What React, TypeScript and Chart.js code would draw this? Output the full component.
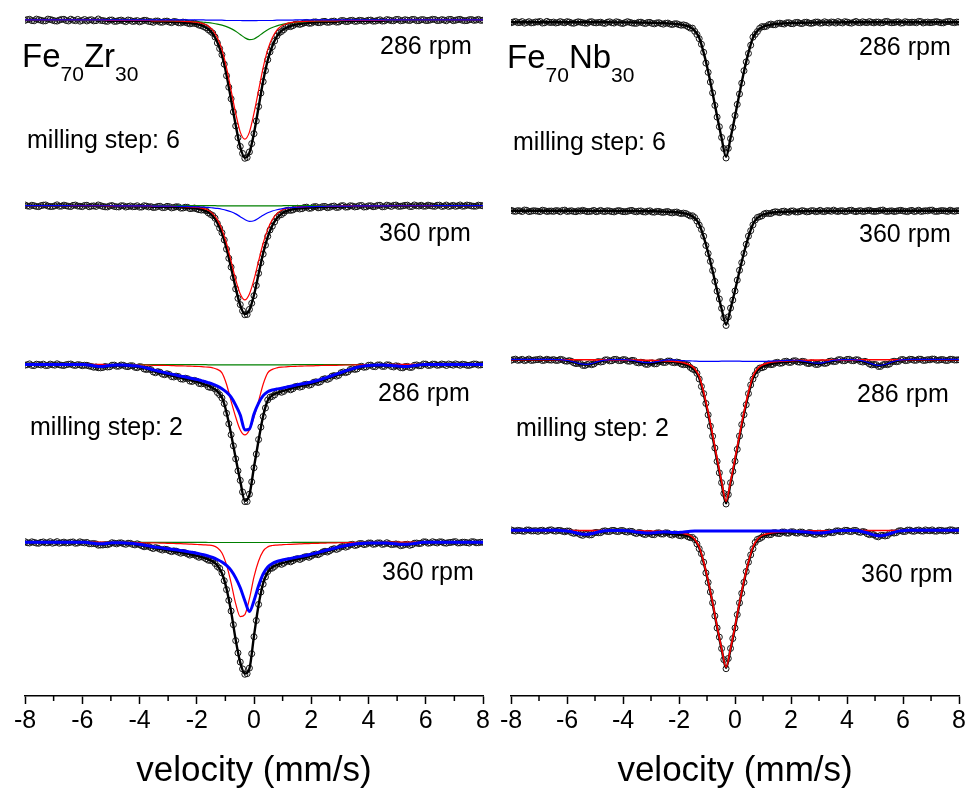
import React, { useEffect, useRef } from "react";
import { Chart, registerables } from "chart.js";
Chart.register(...registerables);

// ---------------- shared axis data ----------------
// measured channels (two interleaved velocity sets of the folded spectrum)
const VELOCITY = [
  -8, -7.84, -7.68, -7.52, -7.36, -7.2, -7.04, -6.88, -6.72, -6.56,
  -6.4, -6.24, -6.08, -5.92, -5.76, -5.6, -5.44, -5.28, -5.12, -4.96,
  -4.8, -4.64, -4.48, -4.32, -4.16, -4, -3.84, -3.68, -3.52, -3.36,
  -3.2, -3.04, -2.88, -2.72, -2.56, -2.4, -2.24, -2.08, -1.92, -1.76,
  -1.6, -1.44, -1.28, -1.12, -0.96, -0.8, -0.64, -0.48, -0.32, -0.16,
  0, 0.16, 0.32, 0.48, 0.64, 0.8, 0.96, 1.12, 1.28, 1.44,
  1.6, 1.76, 1.92, 2.08, 2.24, 2.4, 2.56, 2.72, 2.88, 3.04,
  3.2, 3.36, 3.52, 3.68, 3.84, 4, 4.16, 4.32, 4.48, 4.64,
  4.8, 4.96, 5.12, 5.28, 5.44, 5.6, 5.76, 5.92, 6.08, 6.24,
  6.4, 6.56, 6.72, 6.88, 7.04, 7.2, 7.36, 7.52, 7.68, 7.84, 8,
];
const VELOCITY_MID = [
  -7.92, -7.76, -7.6, -7.44, -7.28, -7.12, -6.96, -6.8, -6.64, -6.48,
  -6.32, -6.16, -6, -5.84, -5.68, -5.52, -5.36, -5.2, -5.04, -4.88,
  -4.72, -4.56, -4.4, -4.24, -4.08, -3.92, -3.76, -3.6, -3.44, -3.28,
  -3.12, -2.96, -2.8, -2.64, -2.48, -2.32, -2.16, -2, -1.84, -1.68,
  -1.52, -1.36, -1.2, -1.04, -0.88, -0.72, -0.56, -0.4, -0.24, -0.08,
  0.08, 0.24, 0.4, 0.56, 0.72, 0.88, 1.04, 1.2, 1.36, 1.52,
  1.68, 1.84, 2, 2.16, 2.32, 2.48, 2.64, 2.8, 2.96, 3.12,
  3.28, 3.44, 3.6, 3.76, 3.92, 4.08, 4.24, 4.4, 4.56, 4.72,
  4.88, 5.04, 5.2, 5.36, 5.52, 5.68, 5.84, 6, 6.16, 6.32,
  6.48, 6.64, 6.8, 6.96, 7.12, 7.28, 7.44, 7.6, 7.76, 7.92,
];
const X_MAJOR_TICKS = [-8, -6, -4, -2, 0, 2, 4, 6, 8];
const X_MINOR_TICKS = [-7, -5, -3, -1, 1, 3, 5, 7];
const X_TITLE = "velocity (mm/s)";

// ---------------- Fe70Zr30 : milling step 6, 286 rpm (absorption, a.u.) ----------------
const ZR6_286_DATA = [
  0.5, -0.6, 0.9, -0.2, 1.1, -0.8, 0.3, 1.2, -0.5, 0.6,
  -0.7, 0.8, 1.3, -0.4, 0.2, 1, -0.9, 0.7, 1.5, 0.1,
  1.4, 0.2, 1.8, 0.5, 1.2, 2, 0.4, 1.6, 2.5, 1.1,
  2.4, 1.2, 2.8, 1.9, 3.1, 2.5, 4, 3.4, 5.3, 6.8,
  9.8, 13.4, 23.2, 35, 56.2, 79.5, 106.8, 127.5, 139.4, 133,
  114.6, 87.3, 62.2, 40.1, 27, 16.1, 11.7, 7.5, 6.8, 4.3,
  4.6, 3, 3.4, 2.1, 2.8, 1.6, 2.5, 1.4, 2.3, 0.8,
  1.7, 0.6, 1.5, 0.4, 1.4, 0.3, 1.3, 0.5, 1.2, -0.3,
  0.8, -0.4, 0.9, -0.2, 0.7, -0.5, 0.8, -0.3, 0.6, -0.6,
  0.7, -0.3, 0.9, -0.5, 0.4, -0.6, 0.8, -0.2, 0.5, -0.5, 0.3,
];
const ZR6_286_DATA_MID = [
  -0.3, 0.7, -0.8, 0.4, 0.9, -0.4, 1, 0.2, -0.6, 1.1,
  0.3, -0.5, 0.6, 1.1, -0.2, 0.8, 0.5, 1.2, 0.2, 1.5,
  0.6, 1.1, 0.1, 1.6, 0.7, 1.3, 0.5, 1.8, 1.2, 2.3,
  1.4, 2.2, 1.6, 2.9, 2.2, 3.3, 3.5, 4.1, 5.8, 7.9,
  11.6, 17.3, 28.9, 44.6, 67.8, 92.7, 118.6, 134.5, 138.6, 124.6,
  101.9, 73.7, 51.1, 32.2, 21.2, 13, 9.8, 6.4, 5.8, 4,
  3.9, 2.6, 3.3, 2, 2.8, 1.5, 2.3, 1.2, 2.1, 0.6,
  1.6, 0.4, 1.3, 0.6, 1.1, 0.2, 1.2, -0.1, 1, 0.1,
  0.9, -0.5, 0.6, 0.3, -0.4, 0.8, -0.2, 0.7, 0.1, -0.4,
  0.6, 0.2, -0.5, 0.8, -0.3, 0.4, 0.7, -0.4, 0.2, 0.5,
];
const ZR6_286_FIT = [
  0.1, 0.1, 0.1, 0.1, 0.1, 0.1, 0.2, 0.2, 0.2, 0.2,
  0.2, 0.2, 0.2, 0.2, 0.2, 0.2, 0.3, 0.3, 0.8, 0.8,
  0.8, 0.9, 0.9, 0.9, 0.9, 1, 1, 1, 1.6, 1.7,
  1.7, 1.8, 1.9, 2.2, 2.4, 2.9, 3.3, 3.9, 4.8, 6.4,
  9.2, 14, 22.5, 35.6, 55.4, 80.4, 106, 128.3, 138.8, 133.7,
  114, 88, 61.6, 40.6, 26.3, 16.6, 11.1, 8.1, 6.2, 4.8,
  4, 3.5, 2.9, 2.6, 2.2, 2.1, 2, 1.9, 1.8, 1.2,
  1.1, 1.1, 1, 1, 1, 0.9, 0.9, 0.9, 0.8, 0.3,
  0.3, 0.3, 0.3, 0.3, 0.2, 0.2, 0.2, 0.2, 0.2, 0.2,
  0.2, 0.2, 0.2, 0.1, 0.1, 0.1, 0.1, 0.1, 0.1, 0.1, 0.1,
];
const ZR6_286_RED = [
  0, 0, 0, 0, 0, 0, 0, 0, 0, 0,
  0, 0, 0, 0, 0, 0, 0, 0, 0.5, 0.5,
  0.5, 0.5, 0.5, 0.5, 0.5, 0.5, 0.5, 0.5, 1, 1,
  1, 1, 1, 1.2, 1.3, 1.6, 1.8, 2.2, 2.8, 4,
  6.1, 10.3, 18, 30, 48, 71, 94, 113, 120, 113,
  94, 71, 48, 30, 18, 10.3, 6.1, 4, 2.8, 2.2,
  1.8, 1.6, 1.3, 1.2, 1, 1, 1, 1, 1, 0.5,
  0.5, 0.5, 0.5, 0.5, 0.5, 0.5, 0.5, 0.5, 0.5, 0,
  0, 0, 0, 0, 0, 0, 0, 0, 0, 0,
  0, 0, 0, 0, 0, 0, 0, 0, 0, 0, 0,
];
const ZR6_286_GREEN = [
  0.1, 0.1, 0.1, 0.1, 0.1, 0.1, 0.2, 0.2, 0.2, 0.2,
  0.2, 0.2, 0.2, 0.2, 0.2, 0.2, 0.3, 0.3, 0.3, 0.3,
  0.3, 0.4, 0.4, 0.4, 0.4, 0.5, 0.5, 0.5, 0.6, 0.7,
  0.7, 0.8, 0.9, 1, 1.1, 1.3, 1.5, 1.7, 2, 2.4,
  2.8, 3.4, 4.2, 5.3, 6.8, 8.8, 11.4, 14.7, 18, 19.9,
  19.2, 16.4, 13, 10, 7.7, 6, 4.7, 3.8, 3.1, 2.6,
  2.2, 1.9, 1.6, 1.4, 1.2, 1.1, 1, 0.9, 0.8, 0.7,
  0.6, 0.6, 0.5, 0.5, 0.5, 0.4, 0.4, 0.4, 0.3, 0.3,
  0.3, 0.3, 0.3, 0.3, 0.2, 0.2, 0.2, 0.2, 0.2, 0.2,
  0.2, 0.2, 0.2, 0.1, 0.1, 0.1, 0.1, 0.1, 0.1, 0.1, 0.1,
];
const ZR6_286_BLUE = [
  0, 0, 0, 0, 0, 0, 0, 0, 0, 0,
  0, 0, 0, 0, 0, 0, 0, 0, 0, 0,
  0, 0, 0, 0, 0, 0, 0, 0, 0, 0,
  0, 0, 0, 0, 0, 0, 0, 0, 0, 0,
  0.3, 0.3, 0.3, 0.3, 0.6, 0.6, 0.6, 0.6, 0.8, 0.8,
  0.8, 0.6, 0.6, 0.6, 0.6, 0.3, 0.3, 0.3, 0.3, 0,
  0, 0, 0, 0, 0, 0, 0, 0, 0, 0,
  0, 0, 0, 0, 0, 0, 0, 0, 0, 0,
  0, 0, 0, 0, 0, 0, 0, 0, 0, 0,
  0, 0, 0, 0, 0, 0, 0, 0, 0, 0, 0,
];

// ---------------- Fe70Zr30 : milling step 6, 360 rpm ----------------
const ZR6_360_DATA = [
  -0.6, 0.8, 0.2, 1.1, -0.4, 0.5, 1, -0.7, 0.6, 0.2,
  1, -0.5, 0.7, -0.1, 1.2, 0.3, -0.6, 0.9, 1.4, 0,
  1.3, 0.2, 1.5, 0.4, 1.1, 1.6, 0.2, 1.4, 2, 0.9,
  2.1, 0.8, 2.4, 1.2, 2.6, 1.7, 3.1, 2.5, 4.2, 4.3,
  7.3, 10.1, 18.1, 27.4, 43.9, 62, 84, 99.8, 110, 104.6,
  90.8, 68.3, 48.9, 31, 20.8, 12.1, 9.1, 5.2, 4.9, 3,
  3.5, 1.9, 2.8, 1.3, 2.3, 1, 2.2, 0.8, 2, 0.3,
  1.6, 0.2, 1.4, 0.1, 1.5, 0.3, 1.2, -0.2, 1.3, -0.4,
  0.9, -0.5, 0.8, -0.2, 1, -0.6, 0.5, 0.7, -0.4, 0.6,
  -0.3, 0.9, -0.5, 0.4, 0.8, -0.6, 0.5, -0.2, 0.7, -0.4, 0.3,
];
const ZR6_360_DATA_MID = [
  0.4, -0.3, 0.9, 0.1, -0.6, 1, 0.3, 0.7, -0.4, 0.8,
  -0.2, 0.5, 1.1, -0.3, 0.6, 0.9, 0.1, 1.3, 0.4, 0.9,
  1.4, 0.3, 1, 1.2, 0.2, 1.5, 0.6, 1.1, 1.8, 0.7,
  2, 1.1, 1.9, 1.3, 2.5, 1.8, 2.9, 3.4, 4.6, 5.2,
  8.9, 12.8, 22.8, 34.6, 53.1, 72.6, 93.5, 106, 109.7, 98.4,
  80.5, 57.6, 39.9, 24.6, 16.4, 9.7, 7.3, 4.6, 4.4, 2.7,
  3.2, 1.6, 2.6, 1, 2.1, 0.9, 1.8, 0.5, 1.7, 0.1,
  1.4, 0.5, 1.1, -0.1, 1.3, 0.2, 0.9, -0.3, 1.1, 0.2,
  -0.2, 0.8, 0.3, -0.4, 0.9, 0.2, -0.3, 0.6, 0.1, 0.8,
  -0.4, 0.5, 0.9, -0.2, 0.3, 0.7, -0.5, 0.4, 0.6, -0.1,
];
const ZR6_360_FIT = [
  0.1, 0.1, 0.1, 0.1, 0.1, 0.1, 0.1, 0.1, 0.1, 0.1,
  0.2, 0.2, 0.2, 0.2, 0.2, 0.2, 0.2, 0.2, 0.6, 0.6,
  0.7, 0.7, 0.7, 0.7, 0.7, 0.8, 0.8, 0.8, 1.3, 1.3,
  1.35, 1.4, 1.5, 1.65, 1.8, 2.1, 2.4, 2.9, 3.6, 4.7,
  6.7, 10.6, 17.4, 28, 43.1, 62.6, 83.2, 100.5, 109.4, 105.2,
  90.1, 69, 48.1, 31.6, 20, 12.7, 8.4, 5.7, 4.3, 3.5,
  2.9, 2.5, 2.1, 1.95, 1.7, 1.6, 1.5, 1.4, 1.4, 0.9,
  0.9, 0.9, 0.8, 0.8, 0.8, 0.8, 0.7, 0.7, 0.7, 0.3,
  0.2, 0.2, 0.2, 0.2, 0.2, 0.2, 0.2, 0.2, 0.2, 0.2,
  0.1, 0.1, 0.1, 0.1, 0.1, 0.1, 0.1, 0.1, 0.1, 0.1, 0.1,
];
const ZR6_360_RED = [
  0, 0, 0, 0, 0, 0, 0, 0, 0, 0,
  0, 0, 0, 0, 0, 0, 0, 0, 0.4, 0.4,
  0.4, 0.4, 0.4, 0.4, 0.4, 0.4, 0.4, 0.4, 0.8, 0.8,
  0.8, 0.8, 0.8, 0.95, 1, 1.2, 1.4, 1.7, 2.2, 3.1,
  4.8, 8.2, 14.2, 24, 38, 56, 74.5, 89, 95, 89,
  74.5, 56, 38, 24, 14.2, 8.2, 4.8, 3.1, 2.2, 1.7,
  1.4, 1.2, 1, 0.95, 0.8, 0.8, 0.8, 0.8, 0.8, 0.4,
  0.4, 0.4, 0.4, 0.4, 0.4, 0.4, 0.4, 0.4, 0.4, 0,
  0, 0, 0, 0, 0, 0, 0, 0, 0, 0,
  0, 0, 0, 0, 0, 0, 0, 0, 0, 0, 0,
];
const ZR6_360_GREEN = [
  0, 0, 0, 0, 0, 0, 0, 0, 0, 0,
  0, 0, 0, 0, 0, 0, 0, 0, 0, 0,
  0, 0, 0, 0, 0, 0, 0, 0, 0, 0,
  0, 0, 0, 0, 0, 0, 0, 0, 0, 0,
  0, 0, 0.3, 0.3, 0.3, 0.3, 0.3, 0.3, 0.3, 0.3,
  0.3, 0.3, 0.3, 0.3, 0.3, 0.3, 0.3, 0, 0, 0,
  0, 0, 0, 0, 0, 0, 0, 0, 0, 0,
  0, 0, 0, 0, 0, 0, 0, 0, 0, 0,
  0, 0, 0, 0, 0, 0, 0, 0, 0, 0,
  0, 0, 0, 0, 0, 0, 0, 0, 0, 0, 0,
];
const ZR6_360_BLUE = [
  0.1, 0.1, 0.1, 0.1, 0.1, 0.1, 0.1, 0.1, 0.1, 0.1,
  0.2, 0.2, 0.2, 0.2, 0.2, 0.2, 0.2, 0.2, 0.2, 0.2,
  0.3, 0.3, 0.3, 0.3, 0.3, 0.4, 0.4, 0.4, 0.5, 0.5,
  0.55, 0.6, 0.7, 0.7, 0.8, 0.9, 1, 1.2, 1.4, 1.6,
  1.9, 2.4, 2.9, 3.7, 4.8, 6.3, 8.4, 11.2, 14.1, 15.9,
  15.3, 12.7, 9.8, 7.3, 5.5, 4.2, 3.3, 2.6, 2.1, 1.8,
  1.5, 1.3, 1.1, 1, 0.9, 0.8, 0.7, 0.6, 0.6, 0.5,
  0.5, 0.5, 0.4, 0.4, 0.4, 0.4, 0.3, 0.3, 0.3, 0.3,
  0.2, 0.2, 0.2, 0.2, 0.2, 0.2, 0.2, 0.2, 0.2, 0.2,
  0.1, 0.1, 0.1, 0.1, 0.1, 0.1, 0.1, 0.1, 0.1, 0.1, 0.1,
];

// ---------------- Fe70Zr30 : milling step 2, 286 rpm ----------------
const ZR2_286_DATA = [
  0.8, -0.5, 1.2, 0.1, -0.3, 1, 0.4, -0.6, 0.9, 0.3,
  -0.4, 1.1, 0.5, 0.8, 1.6, 2.9, 3.4, 3.1, 2.6, 0.8,
  1.9, 0.6, 2, 1.3, 2.9, 2.2, 4.6, 4.7, 7.6, 7.3,
  9.8, 9.4, 12.3, 11.8, 14.6, 13.9, 16.8, 16.1, 19.2, 19.1,
  22.6, 23.1, 28.3, 33.9, 49.2, 70.8, 95.1, 116.8, 138.2, 130.7,
  104.1, 75.7, 52.5, 35.8, 32.3, 28, 28.1, 25.2, 25.6, 22.4,
  22.9, 20.3, 21, 18.1, 18.3, 15.1, 15.2, 11.9, 11.8, 8.4,
  8.3, 5.2, 5.1, 2.4, 2.9, 0.9, 2.1, 0.6, 2, 0.4,
  2.1, 1.4, 3.3, 2.2, 3.1, 0.9, 1.4, -0.4, 1, -0.3,
  0.9, -0.4, 1.1, 0.2, -0.5, 0.9, 0.1, 1, -0.4, 0.7, 0.2,
];
const ZR2_286_DATA_MID = [
  0.3, 1, -0.2, 0.6, 1.2, -0.3, 0.8, 0.4, 1.1, -0.1,
  0.7, 0.2, 1.3, 0.9, 2.1, 2.6, 3.5, 2.1, 2.4, 0.7,
  1.8, 0.9, 2.3, 1.4, 3.3, 2.6, 5.2, 5.3, 8.4, 7.9,
  10.4, 10.1, 12.7, 12.2, 14.9, 14.4, 17.2, 16.9, 19.6, 20.1,
  23.3, 24.9, 30.6, 39.5, 59.8, 82, 107.2, 128.5, 138.1, 118.3,
  90.4, 63.2, 43.9, 33, 30.7, 27.4, 27.2, 24.6, 24.5, 22,
  22.3, 20, 20.3, 17.5, 17.5, 14.4, 14.2, 11.2, 11, 7.6,
  7.5, 4.4, 4.6, 1.9, 2.6, 0.7, 2.3, 0.5, 2, 0.6,
  2.6, 1.8, 3.5, 2, 2.9, 0.5, 1.3, -0.3, 0.9, -0.2,
  0.6, 0.1, -0.4, 0.8, 0.2, -0.2, 0.9, 0.3, -0.3, 0.5,
];
const ZR2_286_FIT = [
  0.2, 0.2, 0.2, 0.2, 0.2, 0.2, 0.2, 0.2, 0.2, 0.2,
  0.2, 0.2, 0.2, 0.2, 0.9, 1.8, 2.6, 2.6, 2.1, 1.3,
  1.1, 1.1, 1.3, 1.7, 2.1, 2.8, 3.8, 5.1, 6.7, 7.9,
  9, 10.1, 11.2, 12.4, 13.5, 14.5, 15.7, 16.8, 18, 19.7,
  21.5, 23.7, 27.2, 33.4, 48.4, 70.4, 94.4, 117.4, 137.4, 131.4,
  103.4, 76.4, 51.9, 36.4, 31.2, 28.7, 27.2, 25.9, 24.5, 23.1,
  22, 21, 20, 18.8, 17.4, 15.8, 14.2, 12.6, 11, 9.1,
  7.4, 5.8, 4.3, 3.1, 2, 1.5, 1.3, 1.2, 1.2, 1,
  1.4, 1.9, 2.5, 2.7, 2.3, 1.5, 0.6, 0.2, 0.2, 0.2,
  0.2, 0.2, 0.2, 0.2, 0.2, 0.2, 0.2, 0.2, 0.2, 0.2, 0.2,
];
const ZR2_286_RED = [
  0, 0, 0, 0, 0, 0, 0, 0, 0, 0,
  0, 0, 0, 0, 0, 0, 0, 0, 0.3, 0.3,
  0.3, 0.3, 0.3, 0.5, 0.5, 0.6, 0.6, 0.7, 1, 1,
  1, 1.1, 1.2, 1.4, 1.5, 1.6, 1.8, 1.9, 2.1, 2.5,
  2.8, 3.5, 5, 8.5, 20, 37, 53, 66, 71, 66,
  53, 37, 20, 8.5, 5, 3.5, 2.8, 2.5, 2.1, 1.9,
  1.8, 1.6, 1.5, 1.4, 1.2, 1.1, 1, 1, 1, 0.7,
  0.6, 0.6, 0.5, 0.5, 0.3, 0.3, 0.3, 0.3, 0.3, 0,
  0, 0, 0, 0, 0, 0, 0, 0, 0, 0,
  0, 0, 0, 0, 0, 0, 0, 0, 0, 0, 0,
];
const ZR2_286_GREEN = [
  0, 0, 0, 0, 0, 0, 0, 0, 0, 0,
  0, 0, 0, 0, 0.3, 0.5, 0.6, 0.6, 0.4, 0.2,
  0.2, 0.2, 0.2, 0.2, 0.2, 0.2, 0.2, 0.2, 0.2, 0.2,
  0.2, 0.2, 0.2, 0.2, 0.2, 0.2, 0.2, 0.2, 0.2, 0.2,
  0.4, 0.4, 0.4, 0.4, 0.4, 0.4, 0.4, 0.4, 0.4, 0.4,
  0.4, 0.4, 0.4, 0.4, 0.4, 0.4, 0.4, 0.4, 0.4, 0.2,
  0.2, 0.2, 0.2, 0.2, 0.2, 0.2, 0.2, 0.2, 0.2, 0.2,
  0.2, 0.2, 0.2, 0.2, 0.2, 0.2, 0.2, 0.2, 0.2, 0.2,
  0.4, 0.5, 0.6, 0.6, 0.5, 0.3, 0, 0, 0, 0,
  0, 0, 0, 0, 0, 0, 0, 0, 0, 0, 0,
];
const ZR2_286_BLUE = [
  0.2, 0.2, 0.2, 0.2, 0.2, 0.2, 0.2, 0.2, 0.2, 0.2,
  0.2, 0.2, 0.2, 0.2, 0.6, 1.3, 2, 2, 1.4, 0.8,
  0.6, 0.6, 0.8, 1, 1.4, 2, 3, 4.2, 5.5, 6.7,
  7.8, 8.8, 9.8, 10.8, 11.8, 12.7, 13.7, 14.7, 15.7, 17,
  18.3, 19.8, 21.8, 24.5, 28, 33, 41, 51, 66, 65,
  50, 39, 31.5, 27.5, 25.8, 24.8, 24, 23, 22, 21,
  20, 19.2, 18.3, 17.2, 16, 14.5, 13, 11.4, 9.8, 8.2,
  6.6, 5, 3.6, 2.4, 1.5, 1, 0.8, 0.7, 0.7, 0.8,
  1, 1.4, 1.9, 2.1, 1.8, 1.2, 0.6, 0.2, 0.2, 0.2,
  0.2, 0.2, 0.2, 0.2, 0.2, 0.2, 0.2, 0.2, 0.2, 0.2, 0.2,
];

// ---------------- Fe70Zr30 : milling step 2, 360 rpm ----------------
const ZR2_360_DATA = [
  -0.4, 0.9, 0.3, 1.2, -0.2, 0.7, 1.1, -0.5, 0.6, 0.9,
  0.1, 1.2, -0.3, 0.8, 1.7, 1.4, 3.1, 2.9, 2.6, 0.6,
  1.8, 0.7, 2.2, 1.2, 2.8, 2.6, 4.7, 4.3, 6.5, 6.1,
  8, 7.5, 9.6, 9.1, 11.2, 10.8, 13.1, 12.7, 15.3, 15.4,
  18.2, 19.1, 24.6, 31, 47.8, 69.4, 99.2, 120.8, 133.1, 126.9,
  95.3, 62.8, 42.3, 29.6, 26.2, 22.3, 22.4, 19.6, 19.9, 17.2,
  17.5, 15, 15.3, 12.6, 12.7, 9.9, 10, 7.3, 7.4, 4.8,
  5.1, 2.7, 3.4, 1.5, 2.5, 0.9, 2.2, 0.8, 2.3, 0.6,
  2.5, 1.8, 3.6, 2.3, 3.2, 1.1, 1.5, -0.3, 1.1, -0.4,
  0.9, -0.2, 1.1, 0.3, -0.5, 0.8, 0.1, 1, -0.3, 0.6, 0.2,
];
const ZR2_360_DATA_MID = [
  0.6, -0.3, 1, 0.2, 0.8, -0.4, 0.5, 1.1, 0, 0.7,
  -0.2, 0.9, 0.4, 0.3, 1.6, 1.8, 2.9, 2.5, 1.9, 1.1,
  0.9, 1.6, 1.1, 2.3, 1.7, 3.7, 4.1, 5.6, 5.5, 7.2,
  7.2, 8.7, 8.8, 10.2, 10.4, 12, 12.3, 14.2, 14.6, 16.8,
  18.5, 21.6, 26.4, 38.9, 58.6, 83.2, 111.6, 127.7, 132.5, 112.4,
  79, 50.3, 35.1, 26.6, 24.5, 21.7, 21.3, 19, 18.7, 16.6,
  16.4, 14.5, 14.1, 12, 11.5, 9.2, 8.9, 6.6, 6.4, 4.2,
  4.3, 2.2, 2.9, 1.4, 2.1, 0.9, 1.9, 0.8, 1.9, 1.6,
  2.3, 2.2, 3.2, 2.1, 2.6, 0.9, 1.2, -0.2, 0.8, 0.3,
  -0.3, 0.8, 0.4, -0.2, 0.9, 0.1, 0.6, -0.4, 0.7, 0.1,
];
const ZR2_360_FIT = [
  0.2, 0.2, 0.2, 0.2, 0.2, 0.2, 0.2, 0.2, 0.2, 0.2,
  0.2, 0.2, 0.2, 0.2, 0.9, 1.7, 2.3, 2.3, 1.9, 1.2,
  1.1, 1.2, 1.4, 1.7, 2.1, 3, 3.9, 4.7, 5.6, 6.4,
  7.2, 8, 8.7, 9.5, 10.3, 11.2, 12.2, 13.2, 14.4, 15.7,
  17.4, 19.4, 23.5, 31.4, 46.9, 69.9, 98.4, 121.4, 132.4, 127.4,
  94.4, 63.4, 41.4, 30.2, 25.3, 22.9, 21.4, 20.1, 19, 17.7,
  16.6, 15.5, 14.4, 13.1, 11.8, 10.4, 9.1, 7.8, 6.5, 5.3,
  4.3, 3.2, 2.5, 2, 1.6, 1.4, 1.3, 1.3, 1.4, 1.2,
  1.7, 2.2, 2.7, 2.8, 2.4, 1.6, 0.7, 0.2, 0.2, 0.2,
  0.2, 0.2, 0.2, 0.2, 0.2, 0.2, 0.2, 0.2, 0.2, 0.2, 0.2,
];
const ZR2_360_RED = [
  0, 0, 0, 0, 0, 0, 0, 0, 0, 0,
  0, 0, 0, 0, 0, 0, 0, 0, 0.3, 0.3,
  0.3, 0.3, 0.3, 0.3, 0.3, 0.6, 0.7, 0.7, 0.8, 0.9,
  1, 1.2, 1.3, 1.5, 1.6, 1.8, 2, 2.2, 2.5, 2.8,
  3, 3.5, 5.6, 11, 23, 41, 62, 75, 73, 57,
  35, 19, 9, 4.8, 3.4, 3, 2.7, 2.4, 2.2, 2,
  1.8, 1.6, 1.5, 1.3, 1.2, 1, 0.9, 0.8, 0.7, 0.6,
  0.6, 0.3, 0.3, 0.3, 0.3, 0.3, 0.3, 0.3, 0.3, 0,
  0, 0, 0, 0, 0, 0, 0, 0, 0, 0,
  0, 0, 0, 0, 0, 0, 0, 0, 0, 0, 0,
];
const ZR2_360_GREEN = [
  0, 0, 0, 0, 0, 0, 0, 0, 0, 0,
  0, 0, 0, 0, 0.3, 0.5, 0.6, 0.6, 0.4, 0.2,
  0.2, 0.2, 0.2, 0.2, 0.2, 0.2, 0.2, 0.2, 0.2, 0.2,
  0.2, 0.2, 0.2, 0.2, 0.2, 0.2, 0.2, 0.2, 0.2, 0.2,
  0.4, 0.4, 0.4, 0.4, 0.4, 0.4, 0.4, 0.4, 0.4, 0.4,
  0.4, 0.4, 0.4, 0.4, 0.4, 0.4, 0.4, 0.4, 0.4, 0.2,
  0.2, 0.2, 0.2, 0.2, 0.2, 0.2, 0.2, 0.2, 0.2, 0.2,
  0.2, 0.2, 0.2, 0.2, 0.2, 0.2, 0.2, 0.2, 0.2, 0.2,
  0.4, 0.5, 0.6, 0.6, 0.5, 0.3, 0, 0, 0, 0,
  0, 0, 0, 0, 0, 0, 0, 0, 0, 0, 0,
];
const ZR2_360_BLUE = [
  0.2, 0.2, 0.2, 0.2, 0.2, 0.2, 0.2, 0.2, 0.2, 0.2,
  0.2, 0.2, 0.2, 0.2, 0.6, 1.2, 1.7, 1.7, 1.2, 0.7,
  0.6, 0.7, 0.9, 1.2, 1.6, 2.2, 3, 3.8, 4.6, 5.3,
  6, 6.6, 7.2, 7.8, 8.5, 9.2, 10, 10.8, 11.7, 12.7,
  14, 15.5, 17.5, 20, 23.5, 28.5, 36, 46, 59, 70,
  59, 44, 32, 25, 21.5, 19.5, 18.3, 17.3, 16.4, 15.5,
  14.6, 13.7, 12.7, 11.6, 10.4, 9.2, 8, 6.8, 5.6, 4.5,
  3.5, 2.7, 2, 1.5, 1.1, 0.9, 0.8, 0.8, 0.9, 1,
  1.3, 1.7, 2.1, 2.2, 1.9, 1.3, 0.7, 0.2, 0.2, 0.2,
  0.2, 0.2, 0.2, 0.2, 0.2, 0.2, 0.2, 0.2, 0.2, 0.2, 0.2,
];

// ---------------- Fe70Nb30 : milling step 6, 286 rpm ----------------
const NB6_286_DATA = [
  0.9, -0.4, 0.6, 1.3, -0.2, 0.8, 0.1, 1.2, -0.5, 0.7,
  1.1, -0.3, 0.9, 0.2, 1.4, -0.1, 0.8, 1.3, -0.2, 1,
  0.3, 1.5, -0.1, 1.2, 0.4, 1.6, -0.2, 1.1, 1.5, 0.3,
  1.7, 0.5, 2, 0.8, 2.3, 1.2, 2.7, 1.9, 3.4, 3.6,
  6.3, 9.5, 16.9, 30.6, 50.8, 71.5, 95.9, 116.4, 137.1, 117.6,
  94.3, 72.6, 49.2, 31.8, 15.4, 9.7, 4.8, 4.5, 2.2, 2.9,
  1.3, 2.2, 0.8, 1.9, 0.5, 1.7, 0.3, 1.5, 0.2, 1.3,
  -0.1, 1.2, 0.4, -0.3, 1.1, 0.2, 1.3, -0.4, 0.9, 0.5,
  -0.3, 1, 0.2, 0.8, -0.5, 0.9, 0.1, 1.2, -0.2, 0.7,
  0.4, -0.5, 1.1, 0.2, 0.6, -0.3, 0.9, 0.1, -0.4, 0.8, 0.3,
];
const NB6_286_DATA_MID = [
  0.2, 0.8, -0.3, 0.6, 1, 0.1, -0.4, 0.9, 0.4, 0.2,
  0.7, 0.5, -0.2, 1.1, 0.6, 0.3, 1.2, 0.1, 0.8, 0.6,
  1.2, 0.4, 0.9, -0.1, 1.3, 0.7, 0.5, 1.4, 0.4, 1.2,
  0.6, 1.5, 1.1, 1.7, 1.4, 2.2, 1.9, 2.8, 3, 4.9,
  6.3, 12.7, 22.5, 41.5, 60.6, 84.1, 105.6, 127.6, 127.4, 106.3,
  83.1, 61.7, 40.3, 23.5, 12.6, 6.5, 4.9, 2.9, 2.9, 1.5,
  1.9, 1, 1.8, 0.6, 1.4, 0.5, 1.1, 1, 0.2, 1,
  0.7, 0.1, 1.2, 0.6, -0.2, 0.9, 0.4, 0.7, -0.1, 0.8,
  0.5, 0.2, 1, -0.3, 0.6, 0.7, 0, 1, 0.4, 0.3,
  0.9, -0.2, 0.5, 0.8, 0.1, 0.4, 1, -0.3, 0.6, 0.2,
];
const NB6_286_FIT = [
  0.3, 0.3, 0.3, 0.3, 0.3, 0.3, 0.3, 0.3, 0.3, 0.3,
  0.3, 0.3, 0.3, 0.3, 0.3, 0.3, 0.3, 0.3, 0.4, 0.4,
  0.4, 0.4, 0.4, 0.5, 0.5, 0.5, 0.5, 0.5, 0.7, 0.8,
  0.8, 0.9, 1, 1.1, 1.3, 1.5, 1.8, 2.2, 2.7, 3.8,
  5.4, 9, 16, 31, 50, 72, 95, 117, 136, 117,
  95, 72, 50, 31, 16, 9, 5.4, 3.8, 2.7, 2.2,
  1.8, 1.5, 1.3, 1.1, 1, 0.9, 0.8, 0.8, 0.7, 0.5,
  0.5, 0.5, 0.5, 0.5, 0.4, 0.4, 0.4, 0.4, 0.4, 0.3,
  0.3, 0.3, 0.3, 0.3, 0.3, 0.3, 0.3, 0.3, 0.3, 0.3,
  0.3, 0.3, 0.3, 0.3, 0.3, 0.3, 0.3, 0.3, 0.3, 0.3, 0.3,
];

// ---------------- Fe70Nb30 : milling step 6, 360 rpm ----------------
const NB6_360_DATA = [
  -0.2, 0.9, 0.4, -0.5, 1.1, 0.2, 0.7, -0.3, 1, 0.5,
  0.1, 1.2, -0.4, 0.6, 1, 0.3, -0.2, 1.1, 0.6, 1.2,
  -0.1, 1, 0.5, 1.4, 0, 1.1, 0.8, -0.1, 1.3, 0.4,
  1.5, 0.3, 1.7, 0.9, 1.9, 1, 2.4, 1.5, 3.1, 3,
  5.5, 7.1, 14.6, 25.9, 43.3, 60.4, 81.2, 98.5, 115.8, 98.3,
  81.1, 60.2, 43.2, 25.8, 14.5, 7, 5.4, 2.7, 3, 1.2,
  2.2, 0.6, 1.8, 0.4, 1.5, 0.1, 1.4, 0.2, 1.2, -0.2,
  1.1, 0.3, -0.4, 1, 0.2, 0.8, -0.3, 1.1, 0.1, 0.7,
  -0.2, 0.9, 0.4, -0.5, 1, 0.3, 0.7, -0.2, 0.8, 0.2,
  1, -0.3, 0.6, 0.4, -0.4, 0.9, 0.1, 0.6, -0.3, 0.8, 0.2,
];
const NB6_360_DATA_MID = [
  0.5, 0.1, 1, -0.2, 0.7, 0.4, 1.1, 0.1, 0.6, 0.9,
  0.3, -0.1, 0.9, 0.2, 1.2, 0.6, 0.4, 1, -0.1, 0.7,
  0.8, 0.2, 1.1, 0.6, 0.5, 1.2, 0.1, 0.9, 0.6, 1.3,
  0.7, 1.5, 0.9, 1.6, 1.3, 2, 1.8, 2.5, 2.6, 4.2,
  5.3, 10.6, 19.1, 35.2, 51.2, 71.4, 89.1, 108.1, 107.1, 90.2,
  70.1, 52.5, 34, 20.3, 9.6, 6.2, 3.4, 3.1, 1.8, 1.6,
  0.9, 1.5, 0.5, 1.4, 0.9, 0.6, 1.1, 0.2, 0.8, 0.9,
  0.1, 0.8, 0.6, 0.3, 1.1, -0.1, 0.7, 0.5, 1, 0.2,
  0.6, 0.8, -0.2, 0.7, 0.5, 1, 0.1, 0.4, 1.1, -0.1,
  0.5, 0.9, 0.2, -0.3, 0.8, 0.6, 0.1, 0.9, 0.4, 0.2,
];
const NB6_360_FIT = [
  0.3, 0.3, 0.3, 0.3, 0.3, 0.3, 0.3, 0.3, 0.3, 0.3,
  0.3, 0.3, 0.3, 0.3, 0.3, 0.3, 0.3, 0.3, 0.4, 0.4,
  0.4, 0.4, 0.4, 0.5, 0.5, 0.5, 0.5, 0.5, 0.6, 0.6,
  0.6, 0.8, 0.8, 1, 1.1, 1.3, 1.5, 1.8, 2.3, 3.2,
  4.6, 7.5, 13.8, 26.5, 42.5, 61, 80.5, 99, 115, 99,
  80.5, 61, 42.5, 26.5, 13.8, 7.5, 4.6, 3.2, 2.3, 1.8,
  1.5, 1.3, 1.1, 1, 0.8, 0.8, 0.6, 0.6, 0.6, 0.5,
  0.5, 0.5, 0.5, 0.5, 0.4, 0.4, 0.4, 0.4, 0.4, 0.3,
  0.3, 0.3, 0.3, 0.3, 0.3, 0.3, 0.3, 0.3, 0.3, 0.3,
  0.3, 0.3, 0.3, 0.3, 0.3, 0.3, 0.3, 0.3, 0.3, 0.3, 0.3,
];

// ---------------- Fe70Nb30 : milling step 2, 286 rpm ----------------
const NB2_286_DATA = [
  0.9, -0.3, 0.6, 1.2, -0.4, 0.8, 0.2, 1.1, -0.2, 0.7,
  1, -0.1, 1.5, 1.2, 3.4, 3.9, 6, 5.1, 5.3, 2.8,
  2.6, 0.5, 1.5, 0, 1.2, 0.2, 1.6, 0.9, 3, 2.8,
  4.8, 3.7, 4.5, 2.5, 3.1, 1.6, 3, 2.6, 4.7, 5,
  8, 10.6, 19.7, 34.4, 55.8, 77.3, 102.7, 124.1, 145.6, 124.2,
  102.5, 77.1, 55.6, 34.4, 19.8, 10.8, 8.4, 5.4, 5.3, 3.3,
  3.9, 2.1, 3, 1.5, 2.5, 1.9, 3.8, 3.4, 5.1, 3.8,
  4.1, 1.9, 2.2, 0.4, 1.3, 0, 1.2, 0.3, 2.1, 1.9,
  4.6, 5, 7.1, 5.4, 5.3, 2.4, 2.3, 0.3, 1.2, -0.2,
  0.9, -0.3, 1, 0.2, -0.4, 0.8, 0.1, 1.1, -0.2, 0.6, 0.3,
];
const NB2_286_DATA_MID = [
  0.2, 0.9, -0.1, 0.6, 1, 0.3, -0.4, 0.8, 0.5, 0.1,
  0.9, 0.3, 1.8, 1.9, 4.2, 4.1, 6.1, 4.4, 4.6, 2.1,
  2.2, 0.4, 1.3, -0.1, 1.2, 0.3, 1.9, 1.2, 3.5, 3.1,
  5, 3.4, 4.3, 2.2, 3, 1.6, 3.3, 3.1, 5.3, 5.6,
  9.7, 14, 27.2, 44.3, 67.2, 89.2, 114.2, 135, 136.1, 112.6,
  90.5, 65.6, 45.6, 25.7, 15.3, 8.7, 7.5, 4.6, 4.9, 2.9,
  3.6, 1.8, 2.9, 1.3, 2.8, 2.2, 4.2, 3.7, 5, 3.3,
  3.6, 1.5, 2, 0.2, 1.3, -0.1, 1.3, 0.5, 2.6, 2.7,
  5.5, 5.3, 7, 4.8, 4.6, 1.8, 2, 0.1, 1, 0,
  0.8, -0.2, 0.9, 0.4, -0.3, 0.7, 0.2, 1, -0.1, 0.5,
];
const NB2_286_FIT = [
  0.3, 0.3, 0.3, 0.3, 0.3, 0.3, 0.3, 0.3, 0.3, 0.3,
  0.4, 0.5, 0.9, 1.6, 2.8, 4.2, 5.1, 5.2, 4.5, 3.1,
  1.9, 1, 0.7, 0.6, 0.6, 0.6, 0.85, 1.4, 2.3, 3.2,
  4, 4.15, 3.7, 3, 2.4, 2.1, 2.3, 3.1, 4, 5.3,
  7.2, 11, 18.9, 35, 55, 78, 101.9, 124.8, 144.8, 124.8,
  101.8, 77.8, 54.9, 35, 19, 11.3, 7.7, 5.9, 4.6, 3.8,
  3.2, 2.7, 2.3, 2, 1.8, 2.4, 3.1, 3.8, 4.4, 4.3,
  3.4, 2.4, 1.5, 0.9, 0.55, 0.5, 0.5, 0.76, 1.4, 2.4,
  3.9, 5.5, 6.3, 5.9, 4.6, 2.9, 1.6, 0.8, 0.5, 0.3,
  0.3, 0.3, 0.3, 0.3, 0.3, 0.3, 0.3, 0.3, 0.3, 0.3, 0.3,
];
const NB2_286_RED = [
  0.3, 0.3, 0.3, 0.3, 0.3, 0.3, 0.3, 0.3, 0.3, 0.3,
  0.3, 0.3, 0.3, 0.3, 0.3, 0.3, 0.3, 0.3, 0.4, 0.4,
  0.4, 0.4, 0.4, 0.5, 0.5, 0.5, 0.5, 0.6, 0.7, 0.7,
  0.8, 0.9, 1, 1.2, 1.4, 1.6, 1.9, 2.3, 2.9, 4,
  5.7, 9.3, 17, 33, 53, 76, 100, 123, 143, 123,
  100, 76, 53, 33, 17, 9.3, 5.7, 4, 2.9, 2.3,
  1.9, 1.6, 1.4, 1.2, 1, 0.9, 0.8, 0.7, 0.7, 0.6,
  0.5, 0.5, 0.5, 0.5, 0.4, 0.4, 0.4, 0.4, 0.4, 0.3,
  0.3, 0.3, 0.3, 0.3, 0.3, 0.3, 0.3, 0.3, 0.3, 0.3,
  0.3, 0.3, 0.3, 0.3, 0.3, 0.3, 0.3, 0.3, 0.3, 0.3, 0.3,
];
const NB2_286_BLUE = [
  0, 0, 0, 0, 0, 0, 0, 0, 0, 0,
  0.1, 0.2, 0.6, 1.3, 2.5, 3.9, 4.8, 4.9, 4.1, 2.7,
  1.5, 0.6, 0.3, 0.1, 0.1, 0.1, 0.35, 0.8, 1.6, 2.5,
  3.2, 3.25, 2.7, 1.8, 1, 0.5, 0.4, 0.8, 1.1, 1.3,
  1.5, 1.7, 1.9, 2, 2, 2, 1.9, 1.8, 1.8, 1.8,
  1.8, 1.8, 1.9, 2, 2, 2, 2, 1.9, 1.7, 1.5,
  1.3, 1.1, 0.9, 0.8, 0.8, 1.5, 2.3, 3.1, 3.7, 3.7,
  2.9, 1.9, 1, 0.4, 0.15, 0.1, 0.1, 0.36, 1, 2.1,
  3.6, 5.2, 6, 5.6, 4.3, 2.6, 1.3, 0.5, 0.2, 0,
  0, 0, 0, 0, 0, 0, 0, 0, 0, 0, 0,
];

// ---------------- Fe70Nb30 : milling step 2, 360 rpm ----------------
const NB2_360_DATA = [
  -0.3, 0.9, 0.4, 1.1, -0.2, 0.7, 1.2, 0, 0.8, -0.4,
  1, 0.2, 1.6, 0.9, 3.2, 3.1, 5.2, 4, 4.6, 2.2,
  2.5, 0.6, 1.4, 0.2, 1.4, 0.4, 1.9, 1.2, 3.4, 2.6,
  4.4, 3.2, 4.5, 2.6, 3.9, 2.8, 4.9, 4, 5.7, 5.1,
  7.5, 9.4, 18.6, 32.2, 52.6, 73.1, 98.5, 119.2, 139.5, 119.1,
  98.5, 73.2, 52.5, 32.2, 18.6, 9.3, 7.1, 4.2, 4.4, 2.5,
  3.4, 1.8, 3, 1.6, 3, 1.9, 3.5, 2.6, 4.3, 2.9,
  3.8, 1.8, 2.4, 0.6, 1.5, 0.1, 1.4, 0.3, 2.2, 1.8,
  4.5, 4.6, 6.7, 5.2, 5.4, 2.6, 2.5, 0.4, 1.3, -0.1,
  1.1, -0.2, 0.9, 0.4, -0.3, 1, 0.1, 0.8, -0.4, 0.7, 0.2,
];
const NB2_360_DATA_MID = [
  0.5, 0.1, 0.9, -0.2, 0.8, 0.4, 0.3, 1, -0.1, 0.6,
  0.2, 1.1, 0.8, 2.4, 2.6, 4.5, 3.9, 4.8, 2.7, 2.6,
  1, 1.3, 0.2, 1.2, 0.3, 1.5, 1, 2.6, 2.3, 3.9,
  3.1, 4.4, 2.8, 3.8, 2.6, 4.3, 3.7, 5.3, 4.5, 6.6,
  7.3, 13.8, 23.6, 43, 62.2, 86.4, 107.7, 130.4, 129.2, 109.1,
  85, 63.5, 41.6, 24.9, 12.3, 8.4, 4.8, 4.7, 2.7, 3.3,
  1.8, 2.9, 1.6, 2.7, 1.8, 3.1, 2.4, 3.9, 2.9, 3.8,
  2.1, 2.5, 0.8, 1.5, 0.1, 1.2, 0.2, 1.7, 1.3, 3.6,
  3.8, 6.1, 5.2, 5.8, 3.2, 2.9, 0.8, 1.3, -0.1, 0.9,
  0.2, 0.8, -0.3, 0.6, 0.9, 0, 0.7, 0.4, -0.2, 0.6,
];
const NB2_360_FIT = [
  0.3, 0.3, 0.3, 0.3, 0.3, 0.3, 0.3, 0.3, 0.3, 0.3,
  0.4, 0.5, 0.8, 1.4, 2.4, 3.5, 4.3, 4.4, 3.8, 2.7,
  1.7, 1, 0.7, 0.7, 0.7, 0.8, 1.1, 1.6, 2.5, 3.1,
  3.6, 3.8, 3.6, 3.2, 3.1, 3.4, 4, 4.5, 4.8, 5.4,
  6.6, 9.9, 17.8, 32.8, 51.8, 73.8, 97.8, 119.8, 138.8, 119.8,
  97.8, 73.8, 51.8, 32.8, 17.8, 9.8, 6.3, 4.7, 3.6, 3,
  2.6, 2.3, 2.2, 2.1, 2.2, 2.4, 2.7, 3.1, 3.5, 3.4,
  3, 2.3, 1.6, 1.1, 0.7, 0.6, 0.6, 0.8, 1.4, 2.3,
  3.7, 5.1, 5.9, 5.7, 4.6, 3.1, 1.7, 0.9, 0.5, 0.4,
  0.3, 0.3, 0.3, 0.3, 0.3, 0.3, 0.3, 0.3, 0.3, 0.3, 0.3,
];
const NB2_360_RED = [
  0.3, 0.3, 0.3, 0.3, 0.3, 0.3, 0.3, 0.3, 0.3, 0.3,
  0.3, 0.3, 0.3, 0.3, 0.3, 0.3, 0.3, 0.3, 0.4, 0.4,
  0.4, 0.4, 0.4, 0.5, 0.5, 0.5, 0.5, 0.5, 0.7, 0.7,
  0.8, 0.9, 1, 1.1, 1.3, 1.5, 1.8, 2.2, 2.8, 3.9,
  5.5, 9, 17, 32, 51, 73, 97, 119, 138, 119,
  97, 73, 51, 32, 17, 9, 5.5, 3.9, 2.8, 2.2,
  1.8, 1.5, 1.3, 1.1, 1, 0.9, 0.8, 0.7, 0.7, 0.5,
  0.5, 0.5, 0.5, 0.5, 0.4, 0.4, 0.4, 0.4, 0.4, 0.3,
  0.3, 0.3, 0.3, 0.3, 0.3, 0.3, 0.3, 0.3, 0.3, 0.3,
  0.3, 0.3, 0.3, 0.3, 0.3, 0.3, 0.3, 0.3, 0.3, 0.3, 0.3,
];
const NB2_360_BLUE = [
  0, 0, 0, 0, 0, 0, 0, 0, 0, 0,
  0.1, 0.2, 0.5, 1.1, 2.1, 3.2, 4, 4.1, 3.4, 2.3,
  1.3, 0.6, 0.3, 0.2, 0.2, 0.3, 0.6, 1.1, 1.8, 2.4,
  2.8, 2.9, 2.6, 2.1, 1.8, 1.9, 2.2, 2.3, 2, 1.5,
  1.1, 0.9, 0.8, 0.8, 0.8, 0.8, 0.8, 0.8, 0.8, 0.8,
  0.8, 0.8, 0.8, 0.8, 0.8, 0.8, 0.8, 0.8, 0.8, 0.8,
  0.8, 0.8, 0.9, 1, 1.2, 1.5, 1.9, 2.4, 2.8, 2.9,
  2.5, 1.8, 1.1, 0.6, 0.3, 0.2, 0.2, 0.4, 1, 2,
  3.4, 4.8, 5.6, 5.4, 4.3, 2.8, 1.4, 0.6, 0.2, 0.1,
  0, 0, 0, 0, 0, 0, 0, 0, 0, 0, 0,
];

// ---------------- panel tables ----------------
type Spectrum = {
  data: number[];
  dataMid: number[];
  fit: number[];
  red?: number[];
  green?: number[];
  blue?: number[];
};

const ZR_SPECTRA: Spectrum[] = [
  { data: ZR6_286_DATA, dataMid: ZR6_286_DATA_MID, fit: ZR6_286_FIT, red: ZR6_286_RED, green: ZR6_286_GREEN, blue: ZR6_286_BLUE },
  { data: ZR6_360_DATA, dataMid: ZR6_360_DATA_MID, fit: ZR6_360_FIT, red: ZR6_360_RED, green: ZR6_360_GREEN, blue: ZR6_360_BLUE },
  { data: ZR2_286_DATA, dataMid: ZR2_286_DATA_MID, fit: ZR2_286_FIT, red: ZR2_286_RED, green: ZR2_286_GREEN, blue: ZR2_286_BLUE },
  { data: ZR2_360_DATA, dataMid: ZR2_360_DATA_MID, fit: ZR2_360_FIT, red: ZR2_360_RED, green: ZR2_360_GREEN, blue: ZR2_360_BLUE },
];
const NB_SPECTRA: Spectrum[] = [
  { data: NB6_286_DATA, dataMid: NB6_286_DATA_MID, fit: NB6_286_FIT },
  { data: NB6_360_DATA, dataMid: NB6_360_DATA_MID, fit: NB6_360_FIT },
  { data: NB2_286_DATA, dataMid: NB2_286_DATA_MID, fit: NB2_286_FIT, red: NB2_286_RED, blue: NB2_286_BLUE },
  { data: NB2_360_DATA, dataMid: NB2_360_DATA_MID, fit: NB2_360_FIT, red: NB2_360_RED, blue: NB2_360_BLUE },
];

// ---------------- layout / style (kept apart from the data) ----------------
const W = 968;
const H = 791;
const Y_SPAN = 696; // value range of the hidden stacking axis
const AXIS_HEIGHT = 95;
const ZR_OFFSETS = [681, 494, 334, 155];
const NB_OFFSETS = [679, 489, 339, 167];
const ZR_BLUE_WIDTH = [1.2, 1.2, 3, 3];
const NB_BLUE_WIDTH = [1.2, 1.2, 1.2, 3];
const ZR_RED_WIDTH = 1.2;
const NB_RED_WIDTH = 1.6;
const FONT = 'Arial, "Liberation Sans", Helvetica, sans-serif';

const minorTicksPlugin = {
  id: "minorTicks",
  afterDraw(chart: any) {
    const sx = chart.scales.x;
    const ctx = chart.ctx;
    const y0 = chart.chartArea.bottom;
    ctx.save();
    ctx.strokeStyle = "#000";
    ctx.lineWidth = 1.5;
    X_MINOR_TICKS.forEach((v) => {
      const px = sx.getPixelForValue(v);
      ctx.beginPath();
      ctx.moveTo(px, y0);
      ctx.lineTo(px, y0 + 5);
      ctx.stroke();
    });
    ctx.restore();
  },
};

function buildDatasets(spectra: Spectrum[], offsets: number[], blueWidths: number[], redWidth: number) {
  const ds: any[] = [];
  spectra.forEach((s, i) => {
    const off = offsets[i];
    const pts = (arr: number[], xs: number[] = VELOCITY) => arr.map((d, k) => ({ x: xs[k], y: off - d }));
    ds.push({
      data: [...pts(s.data), ...pts(s.dataMid, VELOCITY_MID)],
      showLine: false,
      pointStyle: "circle",
      pointRadius: 3,
      pointBorderWidth: 1,
      pointBorderColor: "#151515",
      pointBackgroundColor: "rgba(0,0,0,0)",
      order: 5,
    });
    ds.push({
      data: pts(s.fit),
      showLine: true,
      borderColor: "#000",
      borderWidth: 2.4,
      pointRadius: 0,
      cubicInterpolationMode: "monotone",
      order: 4,
    });
    if (s.green)
      ds.push({ data: pts(s.green), showLine: true, borderColor: "#008000", borderWidth: 1.2, pointRadius: 0, cubicInterpolationMode: "monotone", order: 3 });
    if (s.red)
      ds.push({ data: pts(s.red), showLine: true, borderColor: "#ff0000", borderWidth: redWidth, pointRadius: 0, cubicInterpolationMode: "monotone", order: 2 });
    if (s.blue)
      ds.push({ data: pts(s.blue), showLine: true, borderColor: "#0000ff", borderWidth: blueWidths[i], pointRadius: 0, cubicInterpolationMode: "monotone", order: 1 });
  });
  return ds;
}

function makeChart(canvas: HTMLCanvasElement, datasets: any[], padLeft: number, padRight: number) {
  return new Chart(canvas, {
    type: "scatter",
    data: { datasets },
    options: {
      responsive: false,
      animation: false,
      devicePixelRatio: 1,
      events: [],
      layout: { padding: { left: padLeft, right: padRight, top: 0, bottom: 0 } },
      plugins: { legend: { display: false }, tooltip: { enabled: false }, title: { display: false } },
      scales: {
        x: {
          type: "linear",
          min: -8,
          max: 8,
          afterBuildTicks: (s: any) => {
            s.ticks = X_MAJOR_TICKS.map((v) => ({ value: v }));
          },
          afterFit: (s: any) => {
            s.height = AXIS_HEIGHT;
          },
          ticks: {
            color: "#000",
            font: { family: FONT, size: 25 },
            padding: 2,
            maxRotation: 0,
            autoSkip: false,
            callback: (v: any) => String(v),
          },
          grid: {
            display: true,
            drawOnChartArea: false,
            drawTicks: true,
            tickLength: 8,
            tickWidth: 1.5,
            tickColor: "#000",
          },
          border: { display: true, color: "#000", width: 1.5 },
          title: {
            display: true,
            text: X_TITLE,
            color: "#000",
            font: { family: FONT, size: 35, lineHeight: 1 },
            padding: { top: 0, bottom: 2 },
          },
        },
        y: { type: "linear", display: false, min: 0, max: Y_SPAN },
      },
    } as any,
    plugins: [minorTicksPlugin],
  });
}

// ---------------- text annotations ----------------
const LABELS = [
  { text: "286 rpm", x: 380, y: 54 },
  { text: "milling step: 6", x: 27, y: 148 },
  { text: "360 rpm", x: 379, y: 241 },
  { text: "286 rpm", x: 378, y: 401 },
  { text: "milling step: 2", x: 30, y: 435 },
  { text: "360 rpm", x: 382, y: 580 },
  { text: "286 rpm", x: 859, y: 55 },
  { text: "milling step: 6", x: 513, y: 150 },
  { text: "360 rpm", x: 859, y: 242 },
  { text: "286 rpm", x: 857, y: 402 },
  { text: "milling step: 2", x: 516, y: 436 },
  { text: "360 rpm", x: 861, y: 582 },
];
const LABEL_SIZE = 25;
const FORMULAS = [
  { parts: ["Fe", "70", "Zr", "30"], x: 22, y: 67 },
  { parts: ["Fe", "70", "Nb", "30"], x: 507, y: 68 },
];
const FORMULA_SIZE = 33;
const FORMULA_SUB_SIZE = 21;

export default function App() {
  const leftRef = useRef<HTMLCanvasElement>(null);
  const rightRef = useRef<HTMLCanvasElement>(null);

  useEffect(() => {
    const left = makeChart(leftRef.current!, buildDatasets(ZR_SPECTRA, ZR_OFFSETS, ZR_BLUE_WIDTH, ZR_RED_WIDTH), 25, W - 483);
    const right = makeChart(rightRef.current!, buildDatasets(NB_SPECTRA, NB_OFFSETS, NB_BLUE_WIDTH, NB_RED_WIDTH), 511, W - 960);
    return () => {
      left.destroy();
      right.destroy();
    };
  }, []);

  const canvasStyle: React.CSSProperties = { position: "absolute", left: 0, top: 0, width: W, height: H };

  return (
    <div style={{ position: "absolute", left: 0, top: 0, width: W, height: H, background: "#fff", overflow: "hidden", fontFamily: FONT, color: "#000" }}>
      <canvas ref={leftRef} width={W} height={H} style={canvasStyle} />
      <canvas ref={rightRef} width={W} height={H} style={canvasStyle} />
      {LABELS.map((l, i) => (
        <div
          key={"l" + i}
          style={{
            position: "absolute",
            left: l.x,
            top: l.y - 0.8465 * LABEL_SIZE,
            fontSize: LABEL_SIZE,
            lineHeight: 1,
            whiteSpace: "nowrap",
          }}
        >
          {l.text}
        </div>
      ))}
      {FORMULAS.map((f, i) => (
        <div
          key={"f" + i}
          style={{
            position: "absolute",
            left: f.x,
            top: f.y - 0.8465 * FORMULA_SIZE,
            fontSize: FORMULA_SIZE,
            lineHeight: 1,
            whiteSpace: "nowrap",
          }}
        >
          {f.parts.map((p, j) =>
            j % 2 === 1 ? (
              <span key={j} style={{ fontSize: FORMULA_SUB_SIZE, position: "relative", top: 14, lineHeight: 1 }}>
                {p}
              </span>
            ) : (
              <span key={j}>{p}</span>
            )
          )}
        </div>
      ))}
    </div>
  );
}
